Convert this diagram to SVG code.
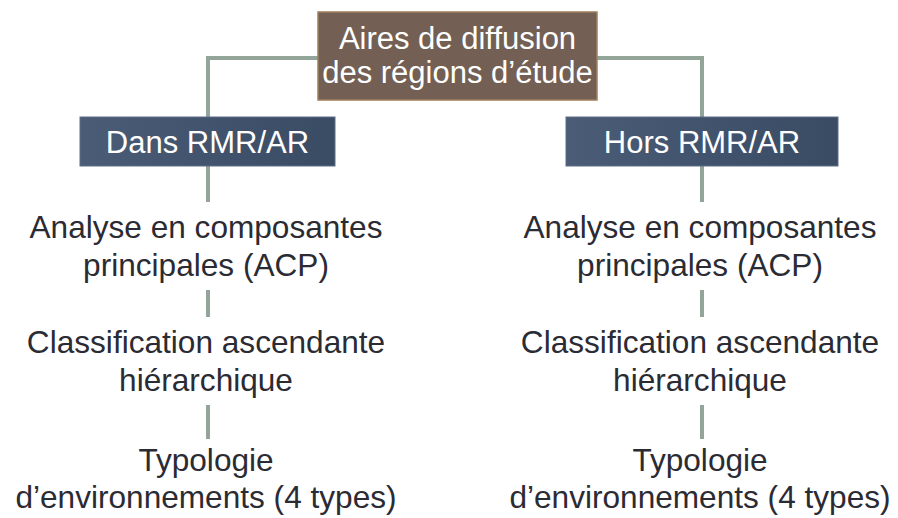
<svg xmlns="http://www.w3.org/2000/svg" width="898" height="518" viewBox="0 0 898 518">
<defs>
<linearGradient id="blue" x1="0" y1="0" x2="1" y2="0">
<stop offset="0" stop-color="#4a5c76"/>
<stop offset="1" stop-color="#3a4b64"/>
</linearGradient>
<style>
.conn{stroke:#93a598;stroke-width:4;fill:none}
.t{font-family:"Liberation Sans",Arial,sans-serif;font-size:31.6px;text-anchor:middle;fill:#2b2b33}
.w{font-family:"Liberation Sans",Arial,sans-serif;font-size:31px;text-anchor:middle;fill:#ffffff}
</style>
</defs>
<rect width="898" height="518" fill="#ffffff"/>
<g id="connectors">
<path class="conn" d="M208 117 V58 H702 V117"/>
<line class="conn" x1="208" y1="166" x2="208" y2="202"/>
<line class="conn" x1="702" y1="166" x2="702" y2="202"/>
<line class="conn" x1="208" y1="290" x2="208" y2="317"/>
<line class="conn" x1="702" y1="290" x2="702" y2="317"/>
<line class="conn" x1="208" y1="405" x2="208" y2="439"/>
<line class="conn" x1="702" y1="405" x2="702" y2="439"/>
</g>
<g id="root">
<rect x="318" y="12" width="279" height="88" fill="#735f53" stroke="#a0805f" stroke-width="1.5"/>
<text class="w" x="457.5" y="49">Aires de diffusion</text>
<text class="w" x="457.5" y="83">des régions d’étude</text>
</g>
<g id="dans">
<rect x="80" y="117" width="255" height="49" fill="url(#blue)" stroke="#5d6e85" stroke-width="1"/>
<text class="w" x="207.5" y="153">Dans RMR/AR</text>
</g>
<g id="hors">
<rect x="566" y="117" width="272" height="49" fill="url(#blue)" stroke="#5d6e85" stroke-width="1"/>
<text class="w" x="702" y="153">Hors RMR/AR</text>
</g>
<g id="acp-left">
<text class="t" x="206" y="238">Analyse en composantes</text>
<text class="t" x="206" y="276">principales (ACP)</text>
</g>
<g id="acp-right">
<text class="t" x="700" y="238">Analyse en composantes</text>
<text class="t" x="700" y="276">principales (ACP)</text>
</g>
<g id="cah-left">
<text class="t" x="206" y="353">Classification ascendante</text>
<text class="t" x="206" y="391">hiérarchique</text>
</g>
<g id="cah-right">
<text class="t" x="700" y="353">Classification ascendante</text>
<text class="t" x="700" y="391">hiérarchique</text>
</g>
<g id="typo-left">
<text class="t" x="206" y="471">Typologie</text>
<text class="t" x="206" y="508">d’environnements (4 types)</text>
</g>
<g id="typo-right">
<text class="t" x="700" y="471">Typologie</text>
<text class="t" x="700" y="508">d’environnements (4 types)</text>
</g>
</svg>
